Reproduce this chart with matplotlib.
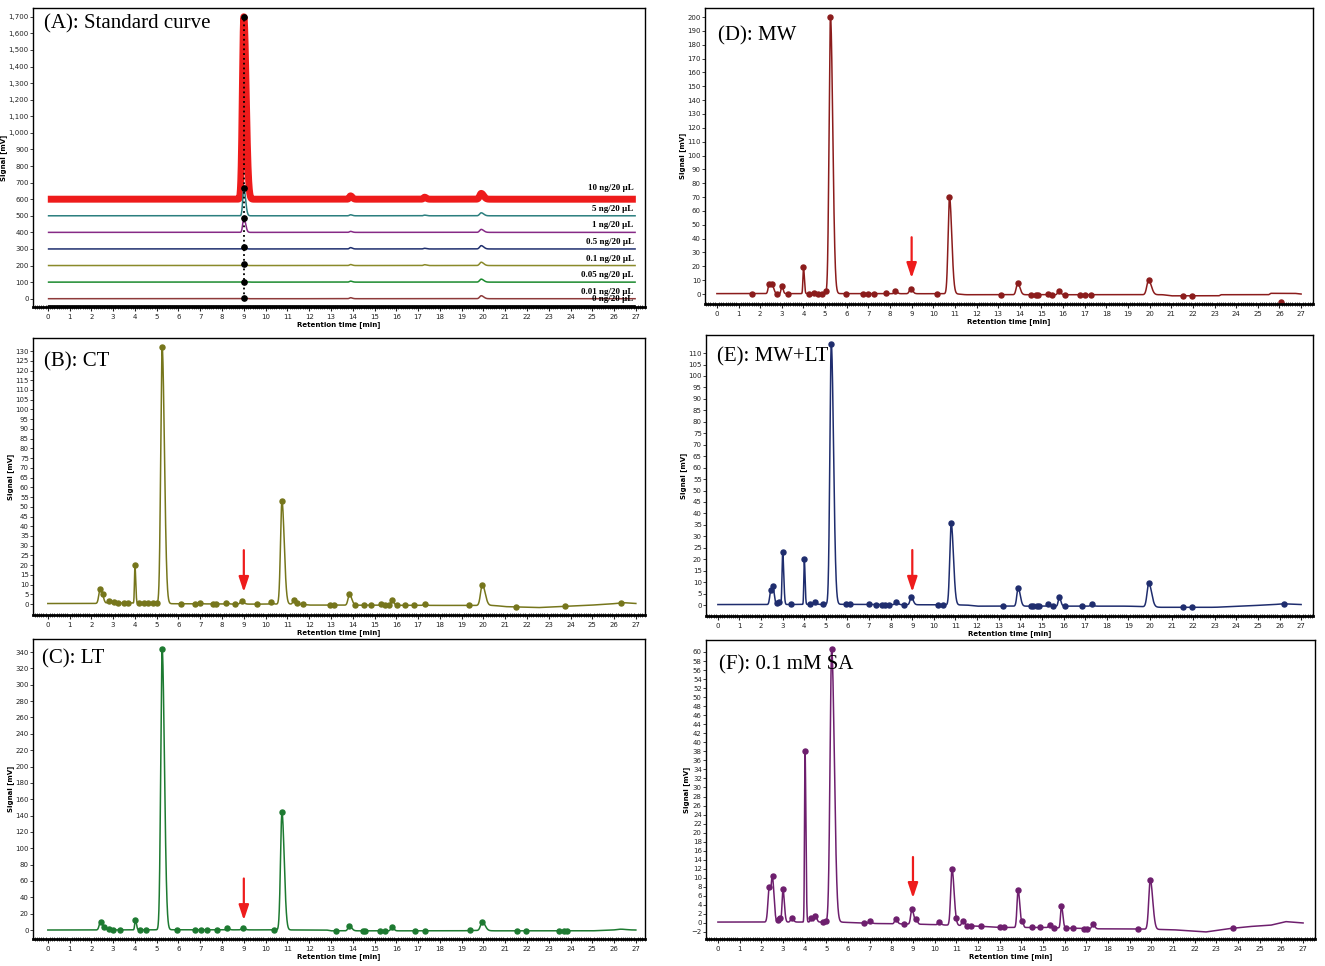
import numpy as np
import matplotlib.pyplot as plt
from matplotlib.ticker import MultipleLocator, FuncFormatter

# ---------------------------------------------------------------
# Values (retention time in min,
# signal in mV). Each peak: apex time, apex height, half-width.
# ---------------------------------------------------------------

# (A) standard curve: one trace per concentration, stacked by offset
std_names = ['10 ng/20 µL', '5 ng/20 µL', '1 ng/20 µL', '0.5 ng/20 µL',
             '0.1 ng/20 µL', '0.05 ng/20 µL', '0.01 ng/20 µL', '0 ng/20 µL']
std_offset = [600, 500, 400, 300, 200, 100, 0, -45]
std_apex9 = [1700, 668, 488, 313, 211, 102, 3, -45]   # apex at 9.0 min
std_p14 = [20, 6, 6, 8, 6, 6, 6, 0]                  # small peak at 13.9 min
std_p17 = [12, 4, 0, 4, 5, 0, 0, 0]                  # small peak at 17.3 min
std_p20 = [35, 18, 18, 20, 20, 18, 18, 0]            # small peak at 19.9 min
std_colors = ['#ee1b1b', '#2b7f7f', '#862a86', '#1f2f6e',
              '#8a8a2a', '#1b8a2e', '#8e3a3a', '#111111']

# (B) CT
b_base_rt = [0, 2.0, 3.5, 5.6, 9.0, 11.5, 12.0, 19.0, 20.5, 21.0, 22.5, 23.5, 25.0, 26.5, 27]
b_base_v = [0.3, 0.3, 0.6, 0.2, 0.0, 0.0, -0.5, -0.7, -0.7, -1.3, -1.8, -1.3, -0.5, 0.5, 0.3]
b_pk_rt = [2.4, 2.52, 2.8, 3.05, 4.0, 4.45, 5.25, 7.0, 8.2, 8.9, 10.25, 10.75, 11.3,
           13.85, 15.3, 15.8, 17.3, 19.95, 26.3]
b_pk_h = [7.5, 5.0, 1.8, 1.0, 20, 0.8, 132, 0.5, 0.8, 1.6, 1.0, 53, 2.0,
          5.0, 0.2, 2.2, 0.2, 10, 0.6]
b_pk_w = [0.06, 0.04, 0.05, 0.05, 0.022, 0.05, 0.065, 0.05, 0.05, 0.06, 0.05, 0.065, 0.05,
          0.065, 0.05, 0.05, 0.05, 0.08, 0.2]
b_dots = [2.4, 2.52, 2.8, 3.05, 3.2, 3.5, 3.7, 4.0, 4.2, 4.4, 4.6, 4.85, 5.0, 5.25, 6.1,
          6.75, 7.0, 7.6, 7.7, 8.2, 8.6, 8.9, 9.6, 10.25, 10.75, 11.3, 11.45, 11.7, 12.95,
          13.15, 13.85, 14.1, 14.5, 14.85, 15.3, 15.5, 15.65, 15.8, 16.05, 16.4, 16.8, 17.3,
          19.35, 19.95, 21.5, 23.75, 26.3]

# (C) LT
c_base_rt = [0, 2.0, 5.6, 12.8, 13.0, 19.0, 19.5, 20.5, 25.0, 26.0, 27]
c_base_v = [0.0, 0.0, 0.3, 0.0, -1.0, -1.0, -0.5, -1.0, -1.0, 0.0, 0.0]
c_pk_rt = [2.42, 2.6, 2.8, 4.02, 5.25, 8.25, 8.95, 10.75, 13.85, 15.8, 19.95, 26.3]
c_pk_h = [10, 4, 1.5, 12.5, 344, 2.0, 2.5, 144, 5.0, 4.0, 10, 1.0]
c_pk_w = [0.06, 0.04, 0.05, 0.03, 0.065, 0.05, 0.06, 0.065, 0.065, 0.05, 0.08, 0.15]
c_dots = [2.42, 2.6, 2.8, 3.0, 3.3, 4.02, 4.25, 4.5, 5.25, 5.95, 6.75, 7.05, 7.3, 7.75,
          8.25, 8.95, 10.4, 10.75, 13.25, 13.85, 14.45, 14.55, 15.25, 15.5, 15.8, 16.85,
          17.3, 19.4, 19.95, 21.55, 21.95, 23.45, 23.7, 23.85]

# (D) MW
d_base_rt = [0, 2.0, 5.6, 11.0, 11.5, 19.5, 20.6, 21.0, 23.2, 23.3, 25.5, 25.6, 26.7, 27]
d_base_v = [0.3, 0.3, 0.3, 0.2, -0.5, -0.5, -0.5, -1.3, -1.3, -0.5, -0.5, 0.5, 0.5, 0.0]
d_pk_rt = [2.42, 2.55, 3.0, 4.0, 4.5, 5.25, 7.8, 8.25, 8.95, 10.75, 13.9, 15.3, 15.8, 19.95]
d_pk_h = [7.5, 7.5, 6.0, 19.5, 1.0, 200, 0.5, 2.0, 3.5, 70, 8.0, 0.3, 2.3, 10]
d_pk_w = [0.05, 0.05, 0.035, 0.025, 0.04, 0.065, 0.05, 0.05, 0.06, 0.065, 0.065, 0.05, 0.05, 0.08]
d_dots = [1.6, 2.42, 2.55, 2.8, 3.0, 3.3, 4.0, 4.25, 4.5, 4.65, 4.85, 5.05, 5.25, 5.95,
          6.75, 7.0, 7.25, 7.8, 8.25, 8.95, 10.15, 10.75, 13.15, 13.9, 14.5, 14.75, 14.85,
          15.3, 15.5, 15.8, 16.1, 16.8, 17.0, 17.3, 19.95, 21.55, 21.95]
d_stray_rt = [26.05]
d_stray_v = [-5.5]

# (E) MW+LT
e_base_rt = [0, 2.0, 5.6, 11.5, 12.0, 19.0, 20.5, 23.0, 24.0, 26.0, 27]
e_base_v = [0.2, 0.2, 0.3, 0.0, -0.5, -0.5, -1.0, -1.0, -0.6, 0.3, 0.2]
e_pk_rt = [2.45, 2.55, 2.8, 3.0, 4.0, 4.5, 5.25, 8.25, 8.95, 10.8, 13.9, 15.3, 15.8,
           17.3, 19.95, 26.2]
e_pk_h = [6.5, 8.5, 1.5, 23, 20, 1.5, 114, 1.5, 3.5, 35.7, 7.5, 0.3, 3.5, 0.3, 9.5, 0.5]
e_pk_w = [0.05, 0.04, 0.04, 0.03, 0.022, 0.04, 0.065, 0.05, 0.055, 0.065, 0.06, 0.05,
          0.045, 0.05, 0.08, 0.2]
e_dots = [2.45, 2.55, 2.75, 2.85, 3.0, 3.4, 4.0, 4.25, 4.5, 4.85, 5.25, 5.95, 6.1, 7.0,
          7.3, 7.6, 7.75, 7.9, 8.25, 8.6, 8.95, 10.2, 10.4, 10.8, 13.2, 13.9, 14.5, 14.6,
          14.75, 14.85, 15.3, 15.5, 15.8, 16.05, 16.85, 17.3, 19.95, 21.55, 21.95, 26.2]

# (F) 0.1 mM SA
f_base_rt = [0, 2.0, 5.6, 7.0, 9.5, 12.0, 13.0, 15.0, 17.5, 19.0, 21.0, 22.5, 23.5,
             24.5, 25.5, 26.2, 27]
f_base_v = [0.2, 0.2, 0.2, -0.1, -0.3, -0.7, -1.0, -1.0, -1.3, -1.3, -1.5, -2.0, -1.3,
            -0.8, -0.5, 0.3, 0.0]
f_pk_rt = [2.37, 2.52, 2.8, 3.0, 3.4, 4.02, 4.3, 4.5, 5.25, 7.0, 8.2, 8.95, 9.15, 10.2,
           10.8, 11.0, 11.3, 13.85, 14.05, 15.3, 15.85, 17.3, 19.95]
f_pk_h = [8.0, 10.5, 1.3, 7.5, 1.0, 38, 1.0, 1.5, 60.6, 0.5, 0.8, 3.0, 0.8, 0.3,
          12, 1.0, 0.5, 7.3, 0.5, -0.5, 3.8, -0.3, 9.5]
f_pk_w = [0.06, 0.045, 0.04, 0.04, 0.05, 0.024, 0.04, 0.04, 0.075, 0.05, 0.05, 0.055, 0.04,
          0.05, 0.06, 0.04, 0.05, 0.05, 0.03, 0.05, 0.04, 0.05, 0.07]
f_dots = [2.37, 2.52, 2.75, 2.85, 3.0, 3.4, 4.02, 4.3, 4.5, 4.85, 5.0, 5.25, 6.75, 7.0,
          8.2, 8.6, 8.95, 9.15, 10.2, 10.8, 11.0, 11.3, 11.5, 11.7, 12.15, 13.0, 13.2,
          13.85, 14.05, 14.5, 14.85, 15.3, 15.5, 15.85, 16.05, 16.4, 16.9, 17.05, 17.3,
          19.4, 19.95, 23.75]

# time axis of the detector
t = np.linspace(0, 27, 8101)


def peak_shape(x, rt, w):
    '''gaussian peak with a slightly longer tail on the right'''
    s = np.where(x < rt, w, w * 1.6)
    return np.exp(-0.5 * ((x - rt) / s) ** 2)


def make_trace(base_rt, base_v, pk_rt, pk_h, pk_w):
    '''baseline plus peaks, scaled so every apex hits its read height'''
    base = np.interp(t, base_rt, base_v)
    pk_rt = np.asarray(pk_rt, float)
    m = np.array([[peak_shape(np.array([ri]), rj, wj)[0]
                   for rj, wj in zip(pk_rt, pk_w)] for ri in pk_rt])
    amp = np.linalg.solve(m, np.asarray(pk_h) - np.interp(pk_rt, base_rt, base_v))
    y = base.copy()
    for a, r, w in zip(amp, pk_rt, pk_w):
        y += a * peak_shape(t, r, w)
    return y


W, H = 1325, 966


def add_panel(fig, box, ylim, yticks, xlim):
    '''box = (left, top, right, bottom) in pixels'''
    l, tp, r, b = box
    ax = fig.add_axes([l / W, 1 - b / H, (r - l) / W, (b - tp) / H])
    ax.set_xlim(xlim)
    ax.set_ylim(ylim)
    ax.set_yticks(yticks)
    ax.xaxis.set_major_locator(MultipleLocator(1))
    ax.xaxis.set_minor_locator(MultipleLocator(0.1))
    ax.tick_params(axis='x', which='major', direction='out', length=3, width=0.8,
                   labelsize=5, pad=2, colors='#222222')
    ax.tick_params(axis='x', which='minor', direction='inout', length=2.2, width=0.5)
    ax.tick_params(axis='y', which='major', direction='out', length=2, width=0.6,
                   labelsize=5, pad=1, colors='#222222')
    for s in ['left', 'top', 'right']:
        ax.spines[s].set_linewidth(1.0)
    ax.spines['bottom'].set_linewidth(2.0)
    ax.set_xlabel('Retention time [min]', fontsize=5, fontweight='bold', labelpad=1)
    ax.set_ylabel('Signal [mV]', fontsize=5, fontweight='bold', labelpad=1)
    return ax


def panel_title(ax, text, x, y):
    ax.text(x, y, text, transform=ax.transAxes, fontsize=15, va='top', ha='left',
            fontfamily='Liberation Serif')


def red_arrow(ax, top, tip):
    ax.annotate('', xy=(9.0, tip), xytext=(9.0, top),
                arrowprops=dict(arrowstyle='-|>,head_length=0.9,head_width=0.3',
                                color='#ee1c1c', lw=1.6, shrinkA=0, shrinkB=0))


def sample_panel(ax, color, base_rt, base_v, pk_rt, pk_h, pk_w, dots):
    y = make_trace(base_rt, base_v, pk_rt, pk_h, pk_w)
    ax.plot(t, y, color=color, lw=1.1)
    ax.plot(dots, np.interp(dots, t, y), 'o', color=color, ms=3.6, mec=color)


fig = plt.figure(figsize=(W / 100, H / 100), dpi=100)
left_x = (-0.68, 27.42)
right_x = (-0.55, 27.55)

# ---- (A) Standard curve ----
axA = add_panel(fig, (33, 8, 645, 307), (-50, 1753), np.arange(0, 1701, 100), left_x)
axA.yaxis.set_major_formatter(FuncFormatter(lambda v, p: f'{int(v):,}'))
for i in range(len(std_names)):
    off = std_offset[i]
    rt = [9.0, 13.9, 17.3, 19.9]
    h = [std_apex9[i], off + std_p14[i], off + std_p17[i], off + std_p20[i]]
    w = [0.065 if i == 0 else 0.05, 0.05, 0.05, 0.07]
    y = make_trace([0, 27], [off, off], rt, h, w)
    lw = 5.0 if i == 0 else (1.6 if i == 7 else 1.1)
    axA.plot(t, y, color=std_colors[i], lw=lw, solid_capstyle='butt')
    dy = 70 if i == 0 else 42
    axA.text(26.9, off + dy, std_names[i], ha='right', va='center', fontsize=6.5,
             fontweight='bold', fontfamily='Liberation Serif')
axA.plot([9.0, 9.0], [0, 1700], color='black', ls=':', lw=1.3)
axA.plot([9.0] * 7, std_apex9[:7], 'o', color='black', ms=3.8)
panel_title(axA, '(A): Standard curve', 0.018, 0.98)

# ---- (B) CT ----
axB = add_panel(fig, (33, 338, 645, 615), (-5.6, 136.7), np.arange(0, 131, 5), left_x)
sample_panel(axB, '#76761c', b_base_rt, b_base_v, b_pk_rt, b_pk_h, b_pk_w, b_dots)
red_arrow(axB, 27.7, 6.2)
panel_title(axB, '(B): CT', 0.018, 0.95)

# ---- (C) LT ----
axC = add_panel(fig, (33, 639, 645, 939), (-11, 356), np.arange(0, 341, 20), left_x)
sample_panel(axC, '#1d7a31', c_base_rt, c_base_v, c_pk_rt, c_pk_h, c_pk_w, c_dots)
red_arrow(axC, 63, 12)
panel_title(axC, '(C): LT', 0.015, 0.965)

# ---- (D) MW ----
axD = add_panel(fig, (705, 8, 1313, 304), (-7.2, 206.5), np.arange(0, 201, 10), right_x)
sample_panel(axD, '#8b1c1c', d_base_rt, d_base_v, d_pk_rt, d_pk_h, d_pk_w, d_dots)
axD.plot(d_stray_rt, d_stray_v, 'o', color='#8b1c1c', ms=3.6)
red_arrow(axD, 41, 11.5)
panel_title(axD, '(D): MW', 0.021, 0.94)

# ---- (E) MW+LT ----
axE = add_panel(fig, (706, 335, 1313, 616), (-4.8, 117.9), np.arange(0, 111, 5), right_x)
sample_panel(axE, '#1f2d6e', e_base_rt, e_base_v, e_pk_rt, e_pk_h, e_pk_w, e_dots)
red_arrow(axE, 24, 5.7)
panel_title(axE, '(E): MW+LT', 0.018, 0.955)

# ---- (F) 0.1 mM SA ----
axF = add_panel(fig, (706, 640, 1315, 939), (-3.55, 62.65), np.arange(-2, 61, 2), right_x)
sample_panel(axF, '#6e1f6e', f_base_rt, f_base_v, f_pk_rt, f_pk_h, f_pk_w, f_dots)
red_arrow(axF, 14.6, 5.5)
panel_title(axF, '(F): 0.1 mM SA', 0.021, 0.95)

fig.savefig('out.png', dpi=100, facecolor='white')
